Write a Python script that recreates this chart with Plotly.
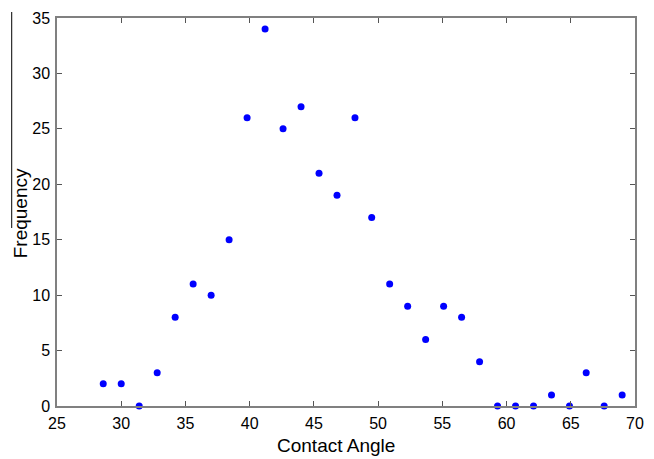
import plotly.graph_objects as go

contact_angle = [28.6, 30.0, 31.4, 32.8, 34.2, 35.6, 37.0, 38.4, 39.8, 41.2,
                 42.6, 44.0, 45.4, 46.8, 48.2, 49.5, 50.9, 52.3, 53.7, 55.1,
                 56.5, 57.9, 59.3, 60.7, 62.1, 63.5, 64.9, 66.2, 67.6, 69.0]
frequency = [2, 2, 0, 3, 8, 11, 10, 15, 26, 34,
             25, 27, 21, 19, 26, 17, 11, 9, 6, 9,
             8, 4, 0, 0, 0, 1, 0, 3, 0, 1]
x_ticks = [25, 30, 35, 40, 45, 50, 55, 60, 65, 70]
y_ticks = [0, 5, 10, 15, 20, 25, 30, 35]

FONT = "Liberation Sans, Arial, sans-serif"
W, H = 654, 459
ML, MR, MT, MB = 57, 10, 18, 53
PW, PH = W - ML - MR, H - MT - MB

fig = go.Figure()
fig.add_trace(go.Scatter(
    x=contact_angle, y=frequency, mode="markers",
    marker=dict(color="#0000ff", size=7, line=dict(width=0)),
    cliponaxis=False, showlegend=False,
))

axis_common = dict(
    showgrid=False, zeroline=False, showline=True, linecolor="#808080",
    linewidth=1.5, mirror="ticks", ticks="inside", ticklen=5,
    tickcolor="#555555", tickwidth=1,
    tickfont=dict(family=FONT, size=16, color="black"),
)

fig.update_layout(
    width=W, height=H,
    margin=dict(l=ML, r=MR, t=MT, b=MB),
    paper_bgcolor="white", plot_bgcolor="white",
    xaxis=dict(range=[25, 70], tickvals=x_ticks, ticklabelstandoff=2, **axis_common),
    yaxis=dict(range=[0, 35], tickvals=y_ticks, ticklabelstandoff=2, **axis_common),
    annotations=[
        dict(text="Contact Angle", x=(340 - ML) / PW, xref="paper",
             y=(H - MB - 445) / PH, yref="paper",
             showarrow=False, font=dict(family=FONT, size=19, color="black"),
             xanchor="center", yanchor="middle"),
        dict(text="Frequency", x=(7 - ML) / PW, xref="paper",
             y=(H - MB - 213) / PH, yref="paper",
             showarrow=False, textangle=-90,
             font=dict(family=FONT, size=19, color="black"),
             xanchor="left", yanchor="middle"),
    ],
)
# stray vertical line at far left (pixel x ~11, y 12..228)
fig.add_shape(type="line", xref="paper", yref="paper",
              x0=(11 - ML) / PW, x1=(11 - ML) / PW,
              y0=(H - MB - 228) / PH, y1=(H - MB - 12) / PH,
              line=dict(color="black", width=1))

fig.write_html("out.html")
